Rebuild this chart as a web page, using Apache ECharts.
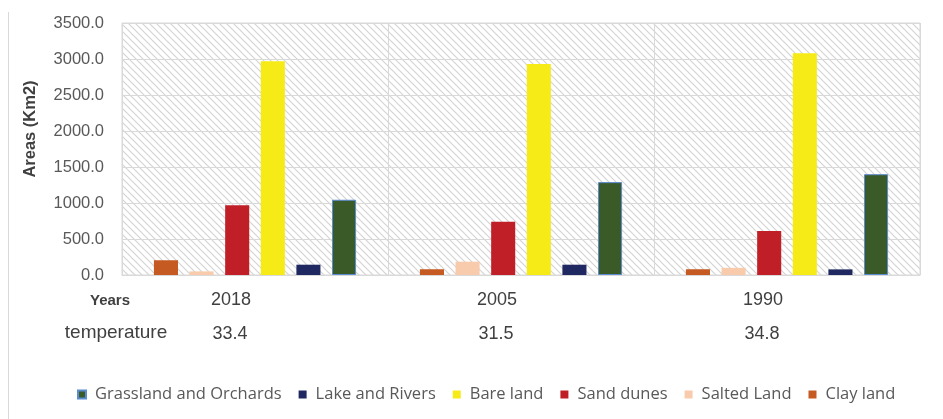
<!DOCTYPE html>
<html>
<head>
<meta charset="utf-8">
<script src="https://cdn.jsdelivr.net/npm/echarts@6/dist/echarts.min.js"></script>
<style>
  html, body { margin: 0; padding: 0; background: #fff; }
  #chart { width: 943px; height: 419px; }
</style>
</head>
<body>
<div id="chart"></div>
<script>
// Land cover areas (Km2) by survey year
const years = ['2018', '2005', '1990'];
const temperature = ['33.4', '31.5', '34.8'];
const yTicks = { min: 0, max: 3500, interval: 500 };

const clayLand = [205, 80, 80];
const saltedLand = [50, 185, 100];
const sandDunes = [968, 740, 610];
const bareLand = [2970, 2930, 3080];
const lakeAndRivers = [143, 143, 78];
const grasslandAndOrchards = [1045, 1290, 1400];

const legendOrder = ['Grassland and Orchards', 'Lake and Rivers', 'Bare land', 'Sand dunes', 'Salted Land', 'Clay land'];

// diagonal hatch fill for the plot background
function hatch() {
  const s = 7;
  const c = document.createElement('canvas');
  c.width = s; c.height = s;
  const g = c.getContext('2d');
  g.fillStyle = '#ffffff';
  g.fillRect(0, 0, s, s);
  g.strokeStyle = '#d4d4d4';
  g.lineWidth = 1.2;
  [-s, 0, s].forEach(function (o) {
    g.beginPath();
    g.moveTo(o - 1, -1);
    g.lineTo(o + s + 1, s + 1);
    g.stroke();
  });
  return { image: c, repeat: 'repeat' };
}

const chart = echarts.init(document.getElementById('chart'), null, { renderer: 'canvas' });

function bar(name, data, color, extra) {
  return Object.assign({
    name: name,
    type: 'bar',
    data: data,
    barGap: '48%',
    barCategoryGap: '24%',
    itemStyle: { color: color },
    emphasis: { disabled: true }
  }, extra || {});
}

chart.setOption({
  animation: false,
  textStyle: { fontFamily: 'Liberation Sans' },
  grid: {
    left: 122, top: 23, right: 23, bottom: 144,
    show: true,
    backgroundColor: hatch(),
    borderColor: '#d9d9d9',
    borderWidth: 1
  },
  legend: {
    data: legendOrder,
    left: 72,
    top: 381,
    icon: 'rect',
    itemWidth: 8,
    itemHeight: 8,
    itemGap: 17,
    textStyle: {
      fontFamily: 'Open Sans',
      fontSize: 16.5,
      color: '#595959',
      padding: [0, 0, 0, 4]
    }
  },
  xAxis: [
    {
      type: 'category',
      data: years,
      axisLine: { lineStyle: { color: '#d9d9d9' } },
      axisTick: { show: false },
      splitLine: { show: true, lineStyle: { color: '#d9d9d9' } },
      axisLabel: {
        margin: 16,
        fontSize: 18,
        color: '#404040',
        padding: [0, 48, 0, 0]
      }
    },
    {
      type: 'category',
      data: temperature,
      position: 'bottom',
      offset: 34,
      axisLine: { show: false },
      axisTick: { show: false },
      splitLine: { show: false },
      axisLabel: {
        margin: 16,
        fontSize: 18,
        color: '#404040',
        padding: [0, 50, 0, 0]
      }
    }
  ],
  yAxis: {
    type: 'value',
    min: yTicks.min,
    max: yTicks.max,
    interval: yTicks.interval,
    axisLine: { show: false },
    axisTick: { show: false },
    splitLine: { lineStyle: { color: '#d9d9d9' } },
    axisLabel: {
      margin: 18,
      fontSize: 16.5,
      color: '#595959',
      formatter: function (v) { return v.toFixed(1); }
    }
  },
  graphic: [
    {
      type: 'line',
      shape: { x1: 8.5, y1: 12, x2: 8.5, y2: 419 },
      style: { stroke: '#d9d9d9', lineWidth: 1 }
    },
    {
      type: 'text',
      x: 30, y: 129,
      rotation: Math.PI / 2,
      style: {
        text: 'Areas (Km2)',
        fontFamily: 'Liberation Sans',
        fontWeight: 'bold',
        fontSize: 16.5,
        fill: '#404040',
        align: 'center',
        verticalAlign: 'middle'
      }
    },
    {
      type: 'text',
      x: 110, y: 301,
      style: {
        text: 'Years',
        fontFamily: 'Liberation Sans',
        fontWeight: 'bold',
        fontSize: 15,
        fill: '#404040',
        align: 'center',
        verticalAlign: 'middle'
      }
    },
    {
      type: 'text',
      x: 116, y: 333,
      style: {
        text: 'temperature',
        fontFamily: 'Liberation Sans',
        fontSize: 19,
        fill: '#404040',
        align: 'center',
        verticalAlign: 'middle'
      }
    }
  ],
  series: [
    bar('Clay land', clayLand, '#c55a22'),
    bar('Salted Land', saltedLand, '#f8cbad'),
    bar('Sand dunes', sandDunes, '#c01f27'),
    bar('Bare land', bareLand, '#f6eb16'),
    bar('Lake and Rivers', lakeAndRivers, '#1f2860'),
    bar('Grassland and Orchards', grasslandAndOrchards, '#3a5a28', {
      itemStyle: { color: '#3a5a28', borderColor: '#5b8bd0', borderWidth: 1 }
    })
  ]
});
</script>
</body>
</html>
